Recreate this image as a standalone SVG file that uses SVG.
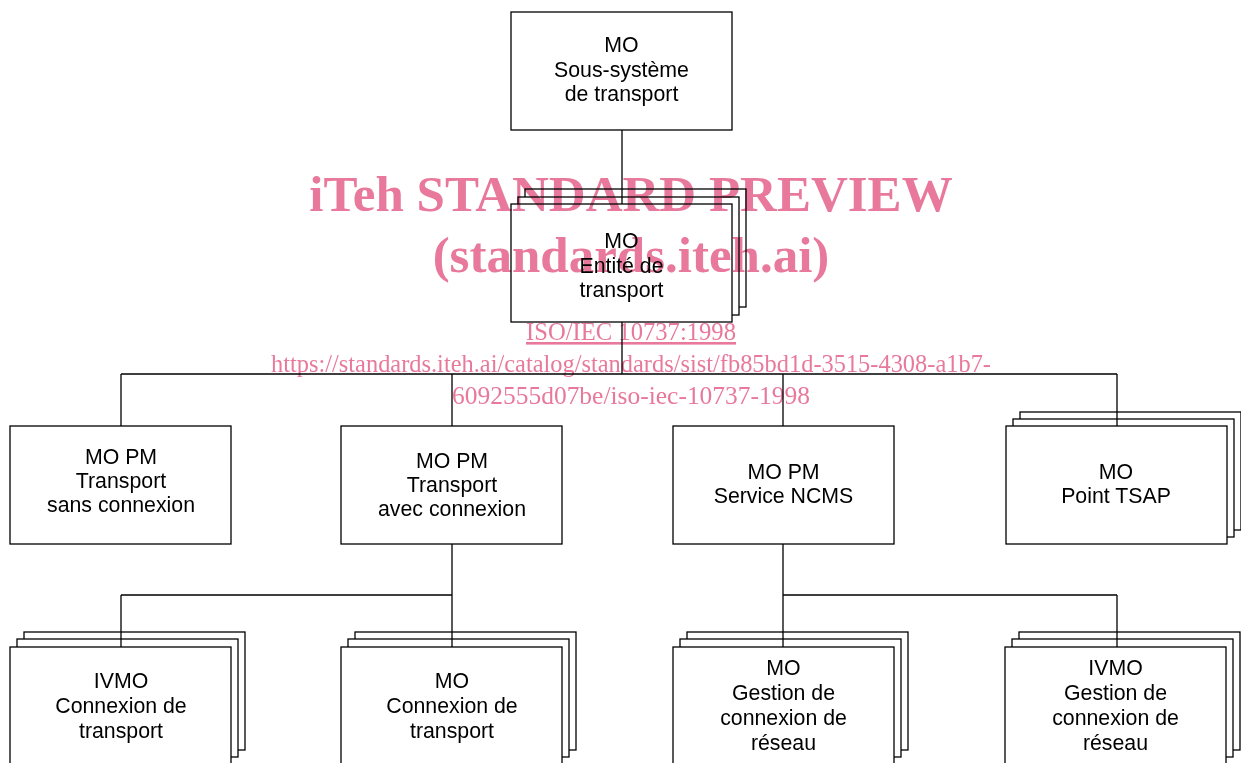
<svg xmlns="http://www.w3.org/2000/svg" width="1241" height="763" viewBox="0 0 1241 763">
<style>
.b{fill:#fff;stroke:#000;stroke-width:1.3}
.t{font-family:"Liberation Sans",Arial,sans-serif;font-size:21.3px;fill:#000;text-anchor:middle}
.c{fill:none;stroke:#000;stroke-width:1.3}
.w{font-family:"Liberation Serif","Times New Roman",serif;fill:#e8799c;text-anchor:middle}
#watermark{mix-blend-mode:multiply}
</style>
<rect width="1241" height="763" fill="#fff"/>
<g id="n-soussysteme"><rect class="b" x="511" y="12" width="221" height="118"/>
<text class="t" x="621.5" y="52">MO</text><text class="t" x="621.5" y="77">Sous-système</text><text class="t" x="621.5" y="101">de transport</text></g>
<g id="n-entite"><rect class="b" x="525" y="189" width="221" height="118"/><rect class="b" x="518" y="197" width="221" height="118"/><rect class="b" x="511" y="204" width="221" height="118"/>
<text class="t" x="621.5" y="248">MO</text><text class="t" x="621.5" y="273">Entité de</text><text class="t" x="621.5" y="297">transport</text></g>
<g id="n-sansconnexion"><rect class="b" x="10" y="426" width="221" height="118"/>
<text class="t" x="121" y="464">MO PM</text><text class="t" x="121" y="488">Transport</text><text class="t" x="121" y="512">sans connexion</text></g>
<g id="n-avecconnexion"><rect class="b" x="341" y="426" width="221" height="118"/>
<text class="t" x="452" y="468">MO PM</text><text class="t" x="452" y="492">Transport</text><text class="t" x="452" y="516">avec connexion</text></g>
<g id="n-ncms"><rect class="b" x="673" y="426" width="221" height="118"/>
<text class="t" x="783.5" y="479">MO PM</text><text class="t" x="783.5" y="503">Service NCMS</text></g>
<g id="n-tsap"><rect class="b" x="1020" y="412" width="221" height="118"/><rect class="b" x="1013" y="419" width="221" height="118"/><rect class="b" x="1006" y="426" width="221" height="118"/>
<text class="t" x="1116" y="479">MO</text><text class="t" x="1116" y="503">Point TSAP</text></g>
<g id="n-ivmo-cnx"><rect class="b" x="24" y="632" width="221" height="118"/><rect class="b" x="17" y="639" width="221" height="118"/><rect class="b" x="10" y="647" width="221" height="118"/>
<text class="t" x="121" y="688">IVMO</text><text class="t" x="121" y="713">Connexion de</text><text class="t" x="121" y="738">transport</text></g>
<g id="n-mo-cnx"><rect class="b" x="355" y="632" width="221" height="118"/><rect class="b" x="348" y="639" width="221" height="118"/><rect class="b" x="341" y="647" width="221" height="118"/>
<text class="t" x="452" y="688">MO</text><text class="t" x="452" y="713">Connexion de</text><text class="t" x="452" y="738">transport</text></g>
<g id="n-mo-gestion"><rect class="b" x="687" y="632" width="221" height="118"/><rect class="b" x="680" y="639" width="221" height="118"/><rect class="b" x="673" y="647" width="221" height="118"/>
<text class="t" x="783.5" y="675">MO</text><text class="t" x="783.5" y="700">Gestion de</text><text class="t" x="783.5" y="725">connexion de</text><text class="t" x="783.5" y="750">réseau</text></g>
<g id="n-ivmo-gestion"><rect class="b" x="1019" y="632" width="221" height="118"/><rect class="b" x="1012" y="639" width="221" height="118"/><rect class="b" x="1005" y="647" width="221" height="118"/>
<text class="t" x="1115.5" y="675">IVMO</text><text class="t" x="1115.5" y="700">Gestion de</text><text class="t" x="1115.5" y="725">connexion de</text><text class="t" x="1115.5" y="750">réseau</text></g>
<g id="connectors">
<path class="c" d="M622 130V204"/>
<path class="c" d="M622 322V374M121 374H1117M121 374V426M452 374V426M783 374V426M1117 374V426"/>
<path class="c" d="M452 544V595M121 595H452M121 595V647M452 595V647"/>
<path class="c" d="M783 544V595H1117M783 595V647M1117 595V647"/>
</g>
<g id="watermark">
<text class="w" x="631" y="211" font-size="51" font-weight="bold">iTeh STANDARD PREVIEW</text>
<text class="w" x="631" y="272" font-size="51" font-weight="bold">(standards.iteh.ai)</text>
<text class="w" x="631" y="340" font-size="26" text-decoration="underline" textLength="210" lengthAdjust="spacingAndGlyphs">ISO/IEC 10737:1998</text>
<text class="w" x="631" y="372" font-size="26" textLength="720" lengthAdjust="spacingAndGlyphs">https://standards.iteh.ai/catalog/standards/sist/fb85bd1d-3515-4308-a1b7-</text>
<text class="w" x="631" y="404" font-size="26" textLength="358" lengthAdjust="spacingAndGlyphs">6092555d07be/iso-iec-10737-1998</text>
</g>
</svg>
